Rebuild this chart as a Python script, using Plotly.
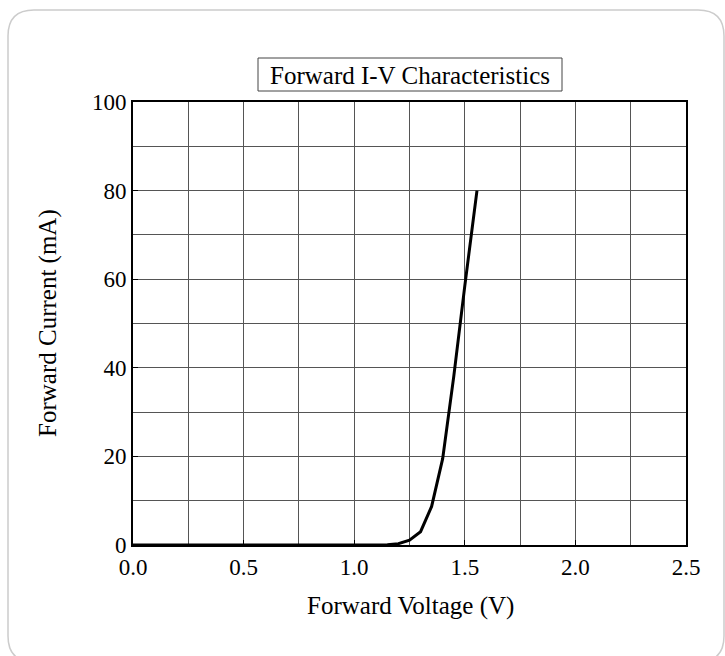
import plotly.graph_objects as go

# Data
voltage = [0.0, 0.5, 1.0, 1.1, 1.15, 1.2, 1.25, 1.3, 1.35, 1.4, 1.45, 1.5, 1.555]
current = [0.0, 0.0, 0.0, 0.0, 0.05, 0.3, 1.1, 3.0, 8.7, 19.5, 38.0, 58.5, 80.0]

x_ticks = [0.0, 0.5, 1.0, 1.5, 2.0, 2.5]
y_ticks = [0, 20, 40, 60, 80, 100]

W, H = 725, 656
L, R, T, B = 133, 39, 102, 111
pw, ph = W - L - R, H - T - B

def px(x):
    return (x - L) / pw

def py(y):
    return (H - B - y) / ph

FONT = "Liberation Serif, Times New Roman, serif"

fig = go.Figure()
fig.add_trace(go.Scatter(x=voltage, y=current, mode="lines",
                         line=dict(color="black", width=3), showlegend=False,
                         hoverinfo="skip"))

axis_common = dict(
    showline=True, linecolor="black", linewidth=2, mirror=True,
    ticks="inside", ticklen=5, tickcolor="black", tickwidth=1,
    showgrid=True, gridcolor="#555555", gridwidth=1,
    zeroline=False,
    tickfont=dict(family=FONT, size=23, color="black"),
)

fig.update_xaxes(range=[0, 2.5], tickvals=x_ticks, tickformat=".1f",
                 minor=dict(dtick=0.25, showgrid=True, gridcolor="#555555", gridwidth=1, ticks=""),
                 **axis_common)
fig.update_yaxes(range=[0, 100], tickvals=y_ticks,
                 minor=dict(dtick=10, showgrid=True, gridcolor="#555555", gridwidth=1, ticks=""),
                 **axis_common)

# axis titles
fig.add_annotation(text="Forward Voltage (V)", xref="paper", yref="paper",
                   x=px(410), y=py(606), xanchor="center", yanchor="middle", showarrow=False,
                   font=dict(family=FONT, size=25, color="black"))
fig.add_annotation(text="Forward Current (mA)", xref="paper", yref="paper",
                   x=px(48), y=py(323), xanchor="center", yanchor="middle", showarrow=False,
                   textangle=-90, font=dict(family=FONT, size=25, color="black"))

# rounded outer border
x0, y0, x1, y1, r = 8, 10, 724, 662, 26
path = (f"M {px(x0+r)},{py(y0)} L {px(x1-r)},{py(y0)} "
        f"Q {px(x1)},{py(y0)} {px(x1)},{py(y0+r)} "
        f"L {px(x1)},{py(y1-r)} Q {px(x1)},{py(y1)} {px(x1-r)},{py(y1)} "
        f"L {px(x0+r)},{py(y1)} Q {px(x0)},{py(y1)} {px(x0)},{py(y1-r)} "
        f"L {px(x0)},{py(y0+r)} Q {px(x0)},{py(y0)} {px(x0+r)},{py(y0)} Z")
fig.add_shape(type="path", path=path, xref="paper", yref="paper",
              line=dict(color="#cccccc", width=1.5), layer="below")

# title box + title text
fig.add_shape(type="rect", xref="paper", yref="paper",
              x0=px(258), x1=px(562), y0=py(58), y1=py(91),
              line=dict(color="#444444", width=1), fillcolor="white")
fig.add_annotation(text="Forward I-V Characteristics", xref="paper", yref="paper",
                   x=px(410), y=py(75), xanchor="center", yanchor="middle", showarrow=False,
                   font=dict(family=FONT, size=25, color="black"))

fig.update_layout(width=W, height=H, margin=dict(l=L, r=R, t=T, b=B),
                  paper_bgcolor="white", plot_bgcolor="white")

fig.write_html("out.html", config={"displayModeBar": False},
               post_script="document.body.style.margin='0';document.body.style.padding='0';")
